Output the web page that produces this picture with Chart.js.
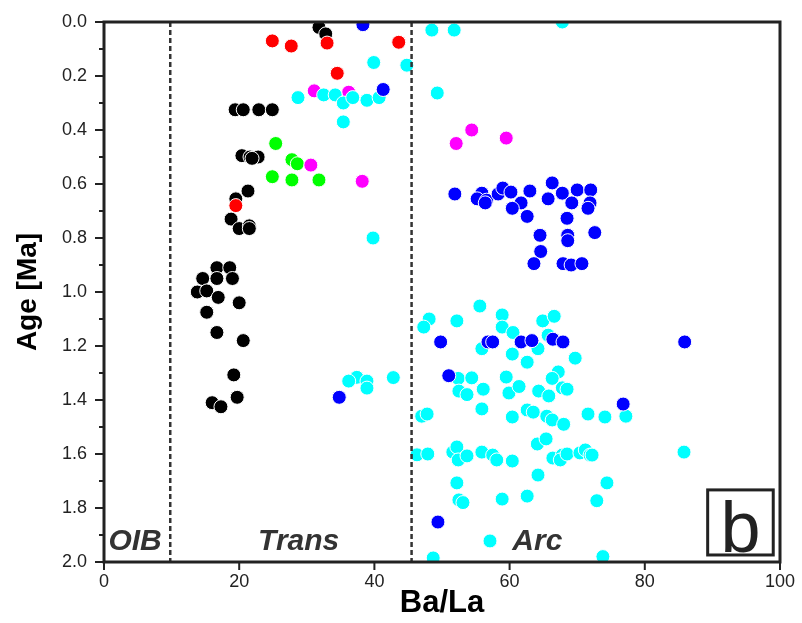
<!DOCTYPE html>
<html>
<head>
<meta charset="utf-8">
<script src="https://cdn.jsdelivr.net/npm/chart.js@4.4.1/dist/chart.umd.min.js"></script>
<style>
  html, body { margin: 0; padding: 0; background: #fff; }
</style>
</head>
<body>
<canvas id="plot" width="802" height="623"></canvas>
<script>
// Ba/La vs Age [Ma]
const black = [
  [31.8,0.02],[32.8,0.044],
  [19.4,0.325],[20.6,0.325],[22.9,0.325],[24.9,0.325],
  [20.4,0.495],[21.6,0.50],[22.8,0.50],[21.9,0.505],
  [21.3,0.626],[19.5,0.655],
  [18.8,0.73],[20.0,0.765],[21.5,0.755],[21.5,0.765],
  [16.7,0.91],[18.6,0.91],[14.6,0.95],[16.7,0.95],[19.0,0.95],[13.8,1.0],[15.2,0.996],
  [16.9,1.02],[20.0,1.04],[15.2,1.075],[16.7,1.15],[20.6,1.18],[19.2,1.307],[19.7,1.39],
  [16.0,1.41],[17.3,1.425]
];
const red = [[24.9,0.07],[27.7,0.089],[33.0,0.078],[34.5,0.19],[43.6,0.075],[19.5,0.68]];
const green = [[25.4,0.45],[27.8,0.51],[28.6,0.525],[24.9,0.573],[27.8,0.585],[31.8,0.585]];
const magenta = [[31.1,0.255],[36.2,0.26],[30.6,0.53],[38.2,0.59],[54.4,0.40],[52.1,0.45],[59.5,0.43]];
const cyan = [
  [28.7,0.28],[32.5,0.27],[34.2,0.27],[35.4,0.30],[36.8,0.28],[38.9,0.29],[40.7,0.28],[35.4,0.37],
  [39.9,0.15],[44.8,0.16],[48.5,0.03],[51.8,0.03],[49.3,0.263],[67.8,0.0],[39.8,0.80],
  [37.4,1.316],[38.9,1.33],[36.2,1.33],[38.9,1.356],[42.8,1.317],
  [55.6,1.052],[48.1,1.10],[47.3,1.13],[52.2,1.107],[58.9,1.085],[58.9,1.13],[60.5,1.15],
  [64.9,1.107],[66.6,1.09],[65.7,1.16],[64.2,1.21],[60.4,1.23],[62.6,1.26],[55.9,1.21],[69.7,1.245],
  [52.4,1.32],[54.4,1.318],[52.5,1.367],[53.7,1.38],[56.1,1.36],[59.5,1.315],[59.9,1.374],[61.4,1.35],
  [64.3,1.367],[65.8,1.385],[67.2,1.296],[66.3,1.32],[67.8,1.355],[68.5,1.36],
  [47.0,1.46],[47.8,1.452],[55.9,1.433],[60.4,1.463],[62.6,1.437],[63.5,1.445],[65.5,1.46],
  [66.3,1.474],[68.0,1.49],[71.6,1.452],[74.1,1.463],[77.2,1.46],
  [46.3,1.603],[47.9,1.60],[51.6,1.593],[52.2,1.574],[52.4,1.622],[53.7,1.607],[55.9,1.593],
  [57.5,1.604],[58.1,1.622],[60.4,1.626],[64.1,1.563],[65.4,1.544],[66.4,1.615],[67.8,1.604],
  [67.5,1.622],[68.5,1.60],[70.4,1.596],[71.2,1.585],[71.9,1.604],[72.2,1.604],[85.8,1.593],
  [52.2,1.707],[64.2,1.678],[52.5,1.77],[53.1,1.78],[58.9,1.767],[62.6,1.756],[74.4,1.707],[72.9,1.773],
  [57.1,1.922],[48.7,1.985],[73.8,1.98]
];
const blue = [
  [38.3,0.01],[41.3,0.25],
  [51.9,0.637],[55.9,0.634],[55.2,0.655],[56.6,0.66],[56.4,0.67],[58.3,0.637],[59.0,0.615],
  [60.2,0.63],[61.7,0.67],[60.4,0.69],[62.6,0.72],[63.0,0.626],[66.3,0.596],[65.7,0.655],
  [67.8,0.634],[70.0,0.622],[72.0,0.622],[69.2,0.67],[71.9,0.67],[71.6,0.69],[68.5,0.727],
  [72.6,0.78],[64.5,0.79],[68.6,0.79],[68.6,0.81],[64.6,0.85],[63.6,0.895],[67.9,0.895],
  [69.1,0.90],[70.7,0.895],
  [49.8,1.185],[56.8,1.185],[57.5,1.185],[61.7,1.185],[63.3,1.18],[66.4,1.175],[67.9,1.185],
  [51.0,1.31],[85.9,1.185],[76.8,1.415],[34.8,1.39],[49.4,1.852]
];

// field boundaries and labels
const boundaries = [9.8, 45.5];
const regionNames = ['OIB', 'Trans', 'Arc'];
const regionX = [4.6, 28.8, 64.1];
const regionY = 1.925;
const xTicks = [0, 20, 40, 60, 80, 100];
const panelLetter = 'b';
const panelBox = [89.3, 1.733, 99.0, 1.974];

const toXY = arr => arr.map(p => ({ x: p[0], y: p[1] }));

function pts(data, color, order) {
  return {
    type: 'scatter',
    data: toXY(data),
    backgroundColor: color,
    borderColor: '#ffffff',
    borderWidth: 1,
    pointRadius: 7,
    pointHoverRadius: 7,
    order: order,
    clip: 0
  };
}

function dashLine(xv) {
  return {
    type: 'line',
    data: [{ x: xv, y: 0 }, { x: xv, y: 2 }],
    borderColor: '#333333',
    borderWidth: 2.5,
    borderDash: [5, 3],
    pointRadius: 0,
    showLine: true,
    fill: false,
    order: 0
  };
}

const decor = {
  id: 'decor',
  afterDatasetsDraw(chart) {
    const { ctx, chartArea: a, scales: { x, y } } = chart;
    ctx.save();
    ctx.strokeStyle = '#222';
    ctx.lineWidth = 3;
    ctx.strokeRect(a.left, a.top, a.right - a.left, a.bottom - a.top);

    ctx.lineWidth = 2;
    ctx.beginPath();
    for (let i = 0; i <= 20; i++) {
      const py = y.getPixelForValue(i / 10);
      const len = i % 2 === 0 ? 9 : 5;
      ctx.moveTo(a.left, py);
      ctx.lineTo(a.left - len, py);
    }
    xTicks.forEach(v => {
      const px = x.getPixelForValue(v);
      ctx.moveTo(px, a.bottom);
      ctx.lineTo(px, a.bottom + 8);
    });
    ctx.stroke();

    ctx.fillStyle = '#333';
    ctx.font = 'italic bold 30px "Liberation Sans", Arial, sans-serif';
    ctx.textAlign = 'center';
    ctx.textBaseline = 'middle';
    regionNames.forEach((t, i) => {
      ctx.fillText(t, x.getPixelForValue(regionX[i]), y.getPixelForValue(regionY));
    });

    const bx0 = x.getPixelForValue(panelBox[0]), by0 = y.getPixelForValue(panelBox[1]);
    const bx1 = x.getPixelForValue(panelBox[2]), by1 = y.getPixelForValue(panelBox[3]);
    ctx.lineWidth = 3;
    ctx.strokeStyle = '#222';
    ctx.strokeRect(bx0, by0, bx1 - bx0, by1 - by0);
    ctx.fillStyle = '#222';
    ctx.font = '72px "Liberation Sans", Arial, sans-serif';
    ctx.textBaseline = 'alphabetic';
    ctx.fillText(panelLetter, (bx0 + bx1) / 2, by1 - 3);
    ctx.restore();
  }
};

new Chart(document.getElementById('plot'), {
  data: {
    datasets: [
      dashLine(boundaries[0]),
      dashLine(boundaries[1]),
      pts(blue, '#0000ff', 1),
      pts(cyan, '#00ffff', 2),
      pts(magenta, '#ff00ff', 3),
      pts(green, '#00ff00', 4),
      pts(red, '#ff0000', 5),
      pts(black, '#000000', 6)
    ]
  },
  options: {
    responsive: false,
    animation: false,
    devicePixelRatio: 1,
    layout: { padding: { top: 22, right: 22, left: 0, bottom: 0 } },
    plugins: { legend: { display: false }, tooltip: { enabled: false } },
    scales: {
      x: {
        type: 'linear',
        min: 0,
        max: 100,
        // tick marks are drawn by the decor plugin; tickLength only spaces the labels
        grid: { display: false, drawTicks: true, tickLength: 9 },
        border: { display: false },
        ticks: {
          stepSize: 20,
          padding: 0,
          color: '#222',
          font: { family: '"Liberation Sans", Arial, sans-serif', size: 18 }
        },
        title: {
          display: true,
          text: 'Ba/La',
          color: '#000',
          font: { family: '"Liberation Sans", Arial, sans-serif', size: 31, weight: 'bold' },
          padding: { top: 0, bottom: 1 }
        },
        afterFit(s) { s.height = 61; }
      },
      y: {
        type: 'linear',
        reverse: true,
        min: 0,
        max: 2,
        grid: { display: false, drawTicks: true, tickLength: 17 },
        border: { display: false },
        ticks: {
          stepSize: 0.1,
          padding: 0,
          color: '#222',
          font: { family: '"Liberation Sans", Arial, sans-serif', size: 18 },
          callback: v => (Math.round(v * 10) % 2 === 0 ? v.toFixed(1) : '')
        },
        title: {
          display: true,
          text: 'Age [Ma]',
          color: '#000',
          font: { family: '"Liberation Sans", Arial, sans-serif', size: 28, weight: 'bold' },
          padding: { top: 11, bottom: 0 }
        },
        afterFit(s) { s.width = 104; }
      }
    }
  },
  plugins: [decor]
});
</script>
</body>
</html>
